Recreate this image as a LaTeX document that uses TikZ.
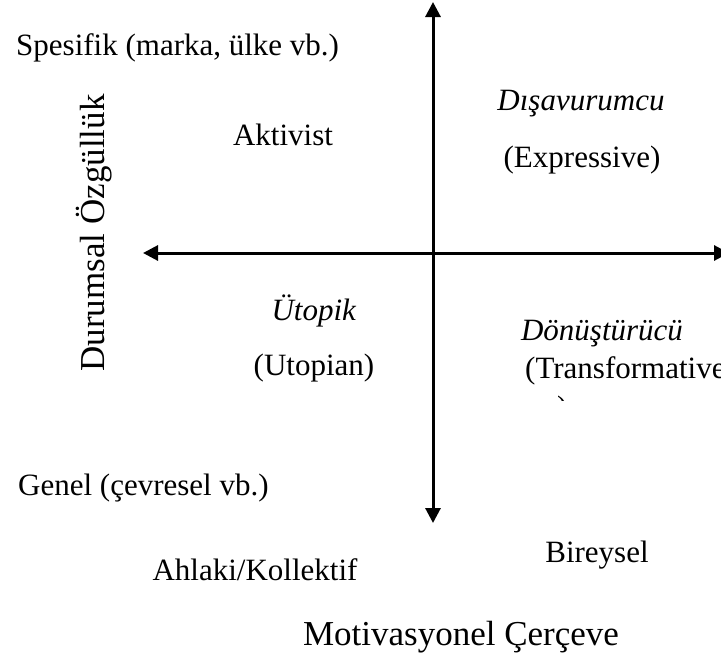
\documentclass[tikz,border=0pt]{standalone}
\usepackage{fontspec}
\setmainfont{Liberation Serif}
\usetikzlibrary{positioning, arrows.meta}

\begin{document}
\begin{tikzpicture}
    [
        x=1pt, y=-1pt,
        axis_arrow/.style={{Triangle[length=15pt, width=15pt]}-{Triangle[length=15pt, width=15pt]}, line width=3pt, color=black},
        quad_text/.style={inner sep=0pt, font=\fontsize{31}{36}\selectfont},
        axis_title/.style={inner sep=0pt, font=\fontsize{35}{40}\selectfont},
    ]
        \useasboundingbox (0,0) rectangle (721,654) ;
        % axes
        \coordinate (top) at (433,2) ;
        \coordinate (bottom) at (433,523) ;
        \coordinate (left) at (143,253) ;
        \coordinate (right) at (729,253) ;
        \draw[axis_arrow] (bottom) -- (top) ;
        \draw[axis_arrow] (left) -- (right) ;
        % vertical axis
        \node[quad_text, anchor=base west] (specific) at (16,55) {Spesifik (marka, ülke vb.)} ;
        \node[quad_text, anchor=base west] (general) at (18,495) {Genel (çevresel vb.)} ;
        \node[axis_title, anchor=base, rotate=90] (vtitle) at (104,233) {Durumsal Özgüllük} ;
        % quadrants
        \node[quad_text, anchor=base] (activist) at (283,145) {Aktivist} ;
        \node[quad_text, anchor=base] (expr_tr) at (581,110) {\textit{Dışavurumcu}} ;
        \node[quad_text, anchor=base] (expr_en) at (582,167) {(Expressive)} ;
        \node[quad_text, anchor=base] (utop_tr) at (314,320) {\textit{Ütopik}} ;
        \node[quad_text, anchor=base] (utop_en) at (314,375) {(Utopian)} ;
        \node[quad_text, anchor=base] (trans_tr) at (602,340) {\textit{Dönüştürücü}} ;
        \node[quad_text, anchor=base west] (trans_en) at (525,378) {(Transformative} ;
        \begin{scope}
            \clip (540,393) rectangle (580,400) ;
            \node[quad_text, anchor=base west] (trans_end) at (557,417) {)} ;
        \end{scope}
        % horizontal axis
        \node[quad_text, anchor=base] (moral) at (255,580) {Ahlaki/Kollektif} ;
        \node[quad_text, anchor=base] (individual) at (597,562) {Bireysel} ;
        \node[axis_title, anchor=base] (htitle) at (461,645) {Motivasyonel Çerçeve} ;
    \end{tikzpicture}
\end{document}
